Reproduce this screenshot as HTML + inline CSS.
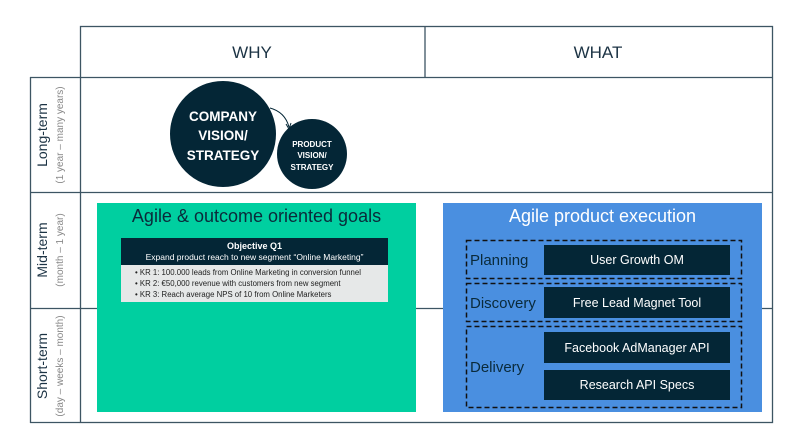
<!DOCTYPE html>
<html><head><meta charset="utf-8"><style>
body{margin:0;width:800px;height:439px;background:#fff;font-family:"Liberation Sans",sans-serif;position:relative;overflow:hidden}
.a{position:absolute;box-sizing:border-box}
.c{display:flex;align-items:center;justify-content:center;text-align:center}
.dk{background:#042636;color:#fff;font-size:12.5px}
.lbl{font-size:15px;color:#0a2a3a}
</style></head><body>
<svg class="a" style="left:0;top:0" width="800" height="439">
<g stroke="#3d5563" stroke-width="1.3" fill="none">
<rect x="80.5" y="26.5" width="692" height="396"/>
<line x1="425" y1="26" x2="425" y2="77"/>
<line x1="30" y1="77.5" x2="773" y2="77.5"/>
<line x1="30" y1="192.5" x2="773" y2="192.5"/>
<line x1="30" y1="308.5" x2="773" y2="308.5"/>
<line x1="30.5" y1="77" x2="30.5" y2="423"/>
<line x1="30" y1="422.5" x2="80" y2="422.5"/>
</g>
<circle cx="223" cy="134" r="53" fill="#042636"/>
<circle cx="312" cy="154" r="35" fill="#042636"/>
<path d="M270 108 Q285 112 289 127" stroke="#042636" fill="none" stroke-width="1"/>
<path d="M286 124 L289 129 L291 123" stroke="#042636" fill="none" stroke-width="1"/>
<text x="252" y="58" font-size="17" fill="#1c3344" text-anchor="middle" font-family="Liberation Sans">WHY</text>
<text x="598" y="58" font-size="17" fill="#1c3344" text-anchor="middle" font-family="Liberation Sans">WHAT</text>
<g font-family="Liberation Sans" text-anchor="middle">
<text transform="translate(47,135) rotate(-90)" font-size="14" fill="#1c3344">Long-term</text>
<text transform="translate(63,135) rotate(-90)" font-size="10" fill="#888">(1 year  –  many years)</text>
<text transform="translate(47,250) rotate(-90)" font-size="14" fill="#1c3344">Mid-term</text>
<text transform="translate(63,250) rotate(-90)" font-size="10" fill="#888">(month  –  1 year)</text>
<text transform="translate(47,366) rotate(-90)" font-size="14" fill="#1c3344">Short-term</text>
<text transform="translate(63,366) rotate(-90)" font-size="10" fill="#888">(day – weeks – month)</text>
</g>
<g font-family="Liberation Sans" font-weight="bold" fill="#fff" text-anchor="middle">
<text x="223" y="121" font-size="13.5">COMPANY</text>
<text x="223" y="140" font-size="13.5">VISION/</text>
<text x="223" y="160" font-size="13.5">STRATEGY</text>
<text x="312" y="147" font-size="8">PRODUCT</text>
<text x="312" y="158" font-size="8">VISION/</text>
<text x="312" y="170" font-size="8">STRATEGY</text>
</g>
</svg>
<div class="a" style="left:97px;top:203px;width:319px;height:209px;background:#00cfa0"></div>
<div class="a" style="left:97px;top:206px;width:319px;text-align:center;font-size:18px;color:#0a2a3a">Agile &amp; outcome oriented goals</div>
<div class="a dk" style="left:121px;top:238px;width:267px;height:27px;text-align:center;font-size:8.5px;line-height:11px;padding-top:3px"><b style="font-size:9px">Objective Q1</b><br>Expand product reach to new segment “Online Marketing”</div>
<div class="a" style="left:121px;top:265px;width:267px;height:37px;background:#e6e8e8;font-size:7.8px;line-height:11px;color:#222;padding:2px 0 0 14px">• KR 1: 100.000 leads from Online Marketing in conversion funnel<br>• KR 2: €50,000 revenue with customers from new segment<br>• KR 3: Reach average NPS of 10 from Online Marketers</div>
<div class="a" style="left:443px;top:203px;width:319px;height:209px;background:#4a8fe0"></div>
<div class="a" style="left:443px;top:206px;width:319px;text-align:center;font-size:18px;color:#fff">Agile product execution</div>
<svg class="a" style="left:0;top:0" width="800" height="439">
<g fill="none" stroke="#111" stroke-width="1.5" stroke-dasharray="5,3">
<rect x="466.5" y="240.5" width="275" height="38"/>
<rect x="466.5" y="283.5" width="275" height="38"/>
<rect x="466.5" y="326.5" width="275" height="81"/>
</g></svg>
<div class="a lbl" style="left:470px;top:252px">Planning</div>
<div class="a lbl" style="left:470px;top:295px">Discovery</div>
<div class="a lbl" style="left:470px;top:359px">Delivery</div>
<div class="a dk c" style="left:544px;top:245px;width:186px;height:30px">User Growth OM</div>
<div class="a dk c" style="left:544px;top:287px;width:186px;height:31px">Free Lead Magnet Tool</div>
<div class="a dk c" style="left:544px;top:332px;width:186px;height:31px">Facebook AdManager API</div>
<div class="a dk c" style="left:544px;top:370px;width:186px;height:30px">Research API Specs</div>
</body></html>
